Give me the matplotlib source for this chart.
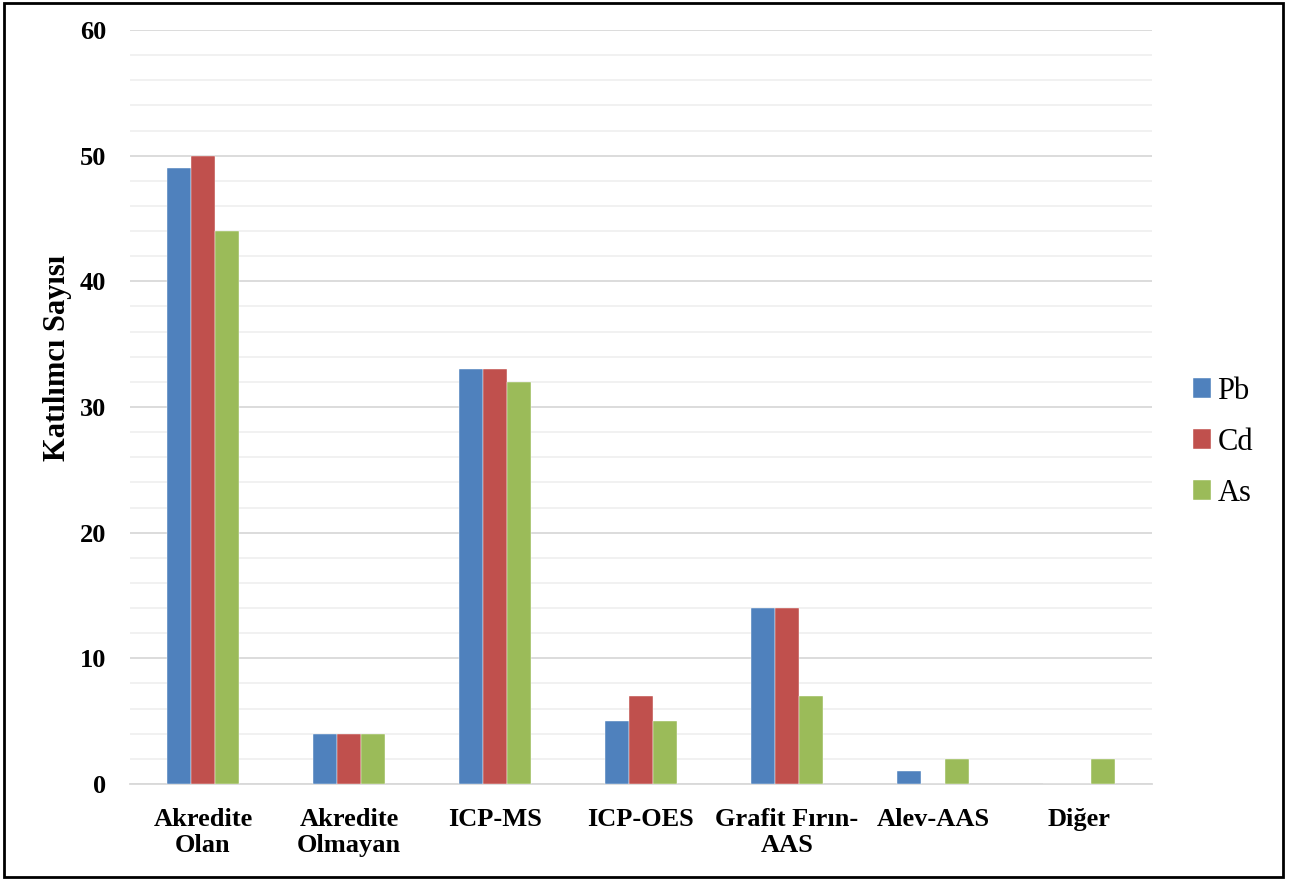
import numpy as np
import matplotlib.pyplot as plt
from matplotlib.patches import Rectangle

plt.rcParams['font.family'] = ['Liberation Serif', 'DejaVu Serif']

categories = ['Akredite\nOlan', 'Akredite\nOlmayan', 'ICP-MS', 'ICP-OES',
              'Grafit Fırın-\nAAS', 'Alev-AAS', 'Diğer']
pb = [49, 4, 33, 5, 14, 1, 0]
cd = [50, 4, 33, 7, 14, 0, 0]
as_ = [44, 4, 32, 5, 7, 2, 2]
series = [('Pb', pb, '#4f81bd'), ('Cd', cd, '#c0504d'), ('As', as_, '#9bbb59')]

fig = plt.figure(figsize=(13.01, 8.8), dpi=100)
ax = fig.add_axes([130 / 1301, 96 / 880, 1022 / 1301, 754 / 880])

x = np.arange(len(categories))
w = 0.165
for i, (name, vals, color) in enumerate(series):
    ax.bar(x + (i - 1) * w, vals, w, color=color, label=name, zorder=3,
           edgecolor='white', linewidth=0.3)

ax.set_xlim(-0.5, len(categories) - 0.5)
ax.set_ylim(0, 60)
ax.set_yticks(range(0, 61, 10))
ax.set_yticks(range(0, 61, 2), minor=True)
ax.grid(axis='y', which='major', color='#d9d9d9', linewidth=1.3, zorder=0)
ax.grid(axis='y', which='minor', color='#f0f0f0', linewidth=1.3, zorder=0)
ax.tick_params(axis='y', which='both', length=0, pad=17, labelsize=19)
ax.tick_params(axis='x', length=0, pad=17, labelsize=19)
for lab in ax.get_yticklabels():
    lab.set_fontweight('bold')
ax.set_xticks(x)
ax.set_xticklabels(categories, fontweight='bold', linespacing=1.2)
for s in ['top', 'right', 'left']:
    ax.spines[s].set_visible(False)
ax.spines['bottom'].set_color('#d9d9d9')
ax.spines['bottom'].set_linewidth(1.3)
ax.set_ylabel('Katılımcı Sayısı', fontsize=22, fontweight='bold')
ax.yaxis.set_label_coords(-0.057, 0.565)

leg = fig.legend(loc='center left', bbox_to_anchor=(1165 / 1301, 0.497), frameon=False,
                 fontsize=22, handlelength=0.62, handleheight=0.62,
                 handletextpad=0.2, labelspacing=0.72)

fig.patches.append(Rectangle((4 / 1301, 3 / 880), 1279 / 1301, 874 / 880,
                             transform=fig.transFigure, fill=False,
                             edgecolor='black', linewidth=2))

fig.savefig('out.png', dpi=100)
